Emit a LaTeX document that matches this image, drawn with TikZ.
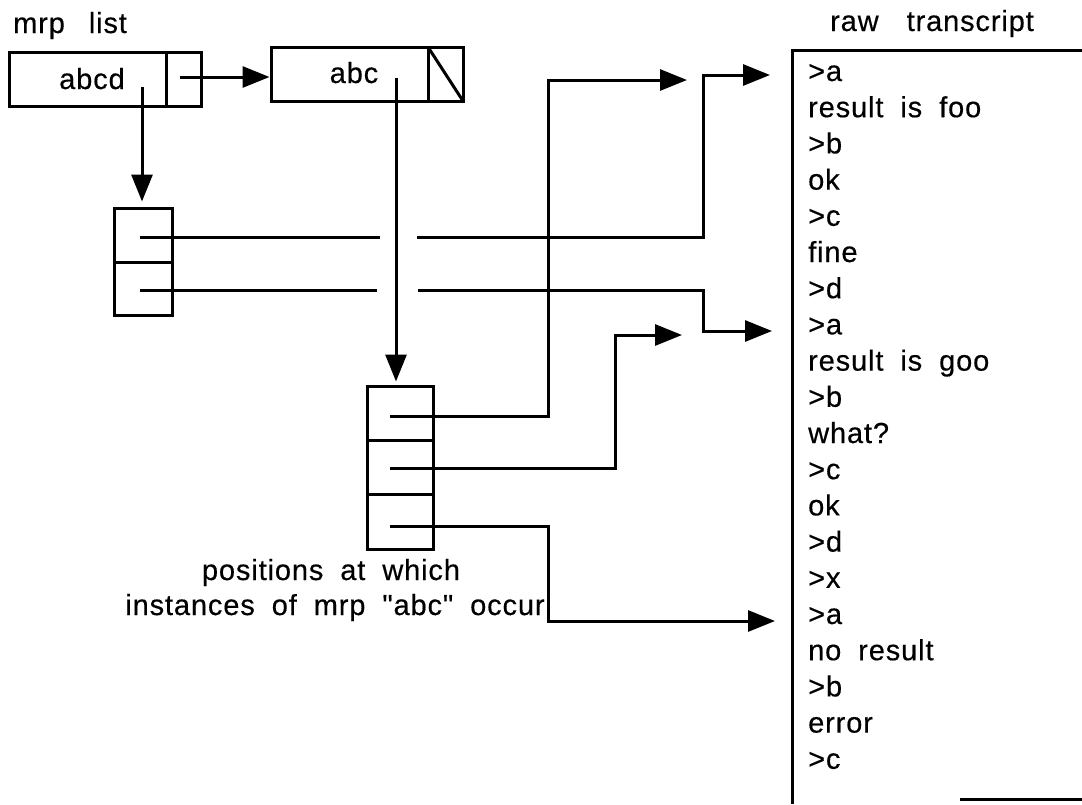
\documentclass[tikz,border=0pt]{standalone}
\usepackage{fontspec}
\setmainfont{Liberation Sans}[Ligatures=TeXOff,LetterSpace=3,WordSpace=1.9,FakeBold=0.4]
\usetikzlibrary{arrows.meta}
\begin{document}
\begin{tikzpicture}[x=1pt,y=-1pt,
  cellbox/.style={draw, line width=3pt, inner sep=0pt},
  edge/.style={line width=3pt},
  wire/.style={line width=3pt},
  ptr/.style={line width=3pt, -{Triangle[length=27pt,width=21pt]}},
  lbl/.style={inner sep=0pt, font=\fontsize{29}{35}\selectfont}]
\useasboundingbox (0,0) rectangle (1082,804);

% titles
\node[lbl, anchor=base west] (ttlA) at (13,33) {mrp\hspace{24pt}list};
\node[lbl, anchor=base] (ttlB) at (932,31) {raw\hspace{28pt}transcript};

% mrp list cells
\node[cellbox, minimum width=192pt, minimum height=54pt] (mrpA) at (105,79) {};
\draw[edge] (166,52) -- (166,106);
\node[lbl, anchor=base] (txtA) at (92,89) {abcd};

\node[cellbox, minimum width=192pt, minimum height=54pt] (mrpB) at (367,74) {};
\draw[edge] (428,47) -- (428,101);
\draw[edge] (428,47) -- (463,101);
\node[lbl, anchor=base] (txtB) at (354,83) {abc};

% occurrence vectors
\node[cellbox, minimum width=58pt, minimum height=107pt] (occA) at (143,261.5) {};
\draw[edge] (114,262) -- (172,262);

\node[cellbox, minimum width=66pt, minimum height=163pt] (occB) at (400,467.5) {};
\draw[edge] (367,440) -- (433,440);
\draw[edge] (367,494) -- (433,494);

% pointer origins inside cells
\coordinate (pA) at (180,77);
\coordinate (dA) at (142,87);
\coordinate (dB) at (396,78);
\coordinate (s1) at (140,237);
\coordinate (s2) at (140,290);
\coordinate (u1) at (390,416);
\coordinate (u2) at (390,468);
\coordinate (u3) at (390,526);

% line jumps across the vertical pointer
\coordinate (j1a) at (380,237);
\coordinate (j1b) at (417,237);
\coordinate (j2a) at (377,290);
\coordinate (j2b) at (418,290);

% corners
\coordinate (k1) at (703,237);
\coordinate (k2) at (703,290);
\coordinate (k3) at (548,416);
\coordinate (k4) at (615,468);
\coordinate (k5) at (548,526);

% arrow ends
\coordinate (f1) at (687,80);
\coordinate (f2) at (682,335);
\coordinate (g1) at (770,75);
\coordinate (g2) at (772,331);
\coordinate (g3) at (775,621);

% list links
\draw[ptr] (pA) -- (mrpB.west |- pA);
\draw[ptr, shorten >=5pt] (dA) -- (dA |- occA.north);
\draw[ptr, shorten >=3pt] (dB) -- (dB |- occB.north);

% positions into the transcript
\draw[wire] (s1) -- (j1a);
\draw[ptr] (j1b) -- (k1) |- (g1);
\draw[wire] (s2) -- (j2a);
\draw[ptr] (j2b) -- (k2) |- (g2);
\draw[ptr] (u1) -- (k3) |- (f1);
\draw[ptr] (u2) -- (k4) |- (f2);
\draw[ptr] (u3) -- (k5) |- (g3);

% caption
\node[lbl, anchor=base] (capA) at (331,580) {positions at which};
\node[lbl, anchor=base] (capB) at (335,615) {instances of mrp "abc" occur};

% transcript frame
\draw[edge] (1082,50) -- (792,50) -- (792,804);
\draw[edge] (960,799) -- (1082,799);

% transcript lines
\foreach \t [count=\i from 0] in {{>a},{result is foo},{>b},{ok},{>c},{fine},{>d},{>a},{result is goo},{>b},{what?},{>c},{ok},{>d},{>x},{>a},{no result},{>b},{error},{>c}}
  \node[lbl, anchor=base west] (r\i) at (808,{81+36.2*\i}) {\t};
\end{tikzpicture}
\end{document}
